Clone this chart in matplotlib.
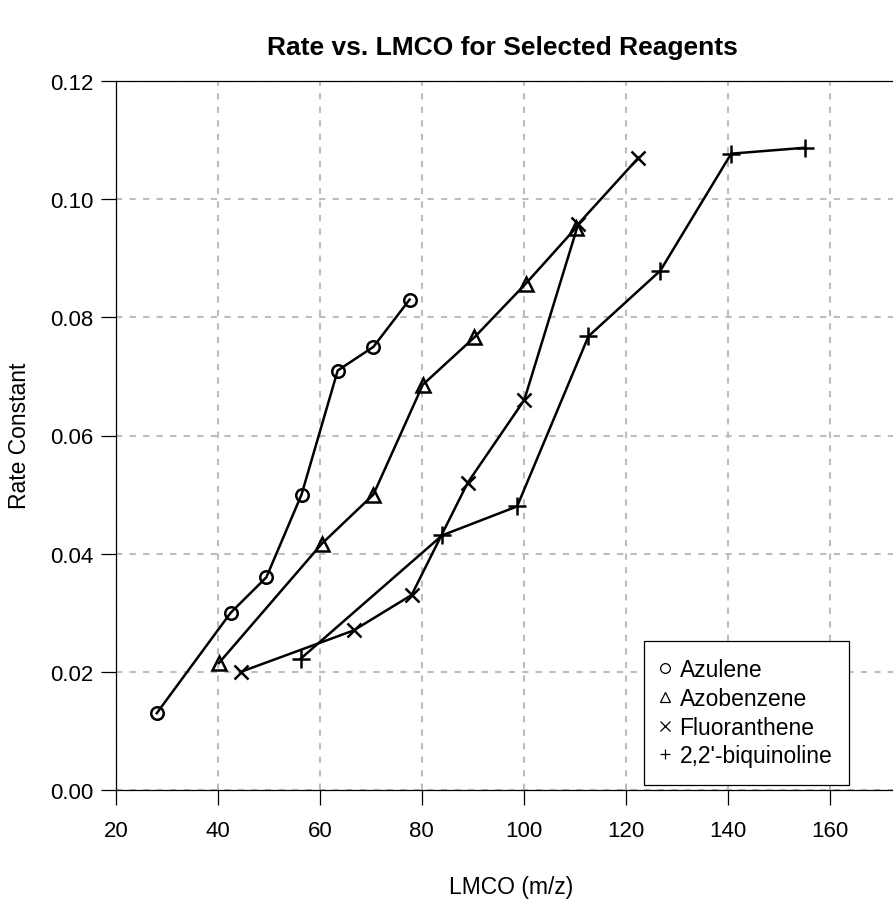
import matplotlib.pyplot as plt
from matplotlib.lines import Line2D

plt.rcParams['font.family'] = ['Liberation Sans', 'DejaVu Sans']

# data
azulene_x = [28.0, 42.5, 49.5, 56.4, 63.5, 70.5, 77.6]
azulene_y = [0.013, 0.030, 0.036, 0.050, 0.071, 0.075, 0.083]

azobenzene_x = [40.2, 60.4, 70.5, 80.2, 90.3, 100.4, 110.3]
azobenzene_y = [0.0215, 0.0417, 0.050, 0.0686, 0.0766, 0.0857, 0.0952]

fluor_x = [44.5, 66.6, 78.0, 89.0, 100.1, 110.7, 122.5]
fluor_y = [0.020, 0.027, 0.033, 0.052, 0.066, 0.0958, 0.107]

biquin_x = [56.2, 84.0, 98.7, 112.7, 126.8, 140.7, 155.1]
biquin_y = [0.0222, 0.0431, 0.048, 0.0768, 0.0879, 0.1077, 0.1087]

names = ['Azulene', 'Azobenzene', 'Fluoranthene', "2,2'-biquinoline"]
markers = ['o', '^', 'x', '+']
msizes = [9, 10, 10, 13]

xticks = [20, 40, 60, 80, 100, 120, 140, 160]
yticks = [0.00, 0.02, 0.04, 0.06, 0.08, 0.10, 0.12]

W, H = 893, 904
fig = plt.figure(figsize=(W / 100, H / 100), dpi=100)
# axes runs a bit past the right border, like the cropped original
ax = fig.add_axes([116 / W, 1 - 791 / H, 790 / W, 709 / H])
ax.set_xlim(20, 175)
ax.set_ylim(0, 0.12)

ax.grid(True, color='#bdbdbd', linestyle=(0, (3, 3.5)), linewidth=1.5)
ax.set_axisbelow(True)

series = [(azulene_x, azulene_y), (azobenzene_x, azobenzene_y),
          (fluor_x, fluor_y), (biquin_x, biquin_y)]
for (xs, ys), m, ms in zip(series, markers, msizes):
    ax.plot(xs, ys, color='black', linewidth=1.8, marker=m, markersize=ms,
            markerfacecolor='none', markeredgecolor='black', markeredgewidth=1.8)

ax.set_xticks(xticks)
ax.set_yticks(yticks)
ax.set_xticklabels([str(t) for t in xticks])
ax.set_yticklabels(['%.2f' % t for t in yticks])
ax.tick_params(direction='out', length=10.8, width=0.9, labelsize=16, colors='black')
ax.tick_params(axis='x', pad=11)
ax.tick_params(axis='y', pad=5.5)
for s in ax.spines.values():
    s.set_linewidth(0.9)
    s.set_color('black')

fig.text(502 / W, 1 - 48 / H, 'Rate vs. LMCO for Selected Reagents',
         ha='center', va='center', fontsize=19, fontweight='bold')
fig.text(511 / W, 1 - 888 / H, 'LMCO (m/z)', ha='center', va='center', fontsize=16.5)
fig.text(20 / W, 1 - 436 / H, 'Rate Constant', ha='center', va='center',
         rotation=90, fontsize=16.5)

handles = [Line2D([], [], linestyle='none', marker=m, markersize=7,
                  markerfacecolor='none', markeredgecolor='black', markeredgewidth=0.9)
           for m in markers]
leg = ax.legend(handles, names, loc='upper left',
                bbox_to_anchor=(644 / W, 1 - 642 / H), bbox_transform=fig.transFigure,
                borderaxespad=0, fontsize=16.5, fancybox=False, framealpha=1,
                edgecolor='black', borderpad=0.75, handlelength=0.3,
                handletextpad=0.5, labelspacing=0.25)
leg.get_frame().set_linewidth(0.9)

fig.savefig('out.png', dpi=100)
